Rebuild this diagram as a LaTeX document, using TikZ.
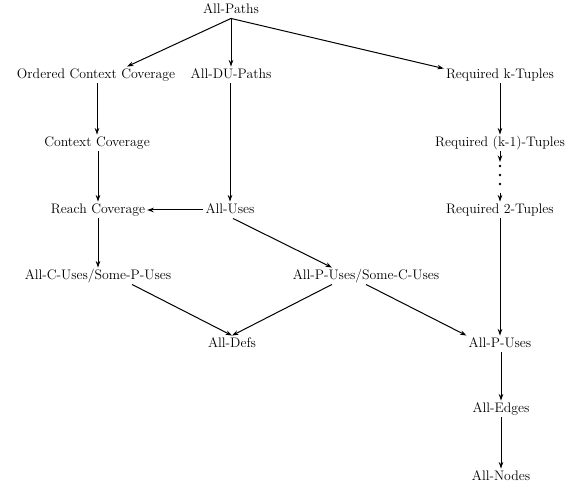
\documentclass[tikz,border=0pt]{standalone}
\usetikzlibrary{arrows.meta}
\begin{document}
\begin{tikzpicture}[x=1pt,y=-1pt,
  lbl/.style={inner sep=2pt,text height=9.5pt,text depth=3pt,font=\fontsize{13.8}{16}\selectfont},
  arr/.style={line width=1pt,-{Stealth[length=6.5pt,width=4.5pt]}}]
\useasboundingbox (0,0) rectangle (571,486);
\node[lbl] (ap)  at (231,10)  {All-Paths};
\node[lbl] (occ) at (96,75)   {Ordered Context Coverage};
\node[lbl] (adu) at (231,75)  {All-DU-Paths};
\node[lbl] (rk)  at (500,75)  {Required k-Tuples};
\node[lbl] (cc)  at (97,143)  {Context Coverage};
\node[lbl] (rk1) at (500,143) {Required (k-1)-Tuples};
\node[lbl] (rc)  at (98,210)  {Reach Coverage};
\node[lbl] (au)  at (230,210) {All-Uses};
\node[lbl] (r2)  at (500,210) {Required 2-Tuples};
\node[lbl] (acu) at (98,276)  {All-C-Uses/Some-P-Uses};
\node[lbl] (apu) at (366,276) {All-P-Uses/Some-C-Uses};
\node[lbl] (ad)  at (232,344) {All-Defs};
\node[lbl] (apo) at (500,344) {All-P-Uses};
\node[lbl] (ae)  at (501,409) {All-Edges};
\node[lbl] (an)  at (501,477) {All-Nodes};
\coordinate (d1) at (500,162);
\coordinate (d2) at (500,193);

\draw[arr] (ap.south) -- ([xshift=31pt]occ.north);
\draw[arr] (ap.south) -- (adu.north);
\draw[arr] (ap.south) -- ([yshift=-2pt]rk.north west);
\draw[arr] (occ.south -| cc.north) -- (cc.north);
\draw[arr] (cc.south -| rc.north) -- (rc.north);
\draw[arr] (adu.south -| au.north) -- (au.north);
\draw[arr] (au.west) -- (rc.east);
\draw[arr] (rc.south) -- (acu.north);
\draw[arr] ([xshift=3pt]au.south) -- ([xshift=-34pt]apu.north);
\draw[arr] ([xshift=34pt]acu.south) -- (ad.north);
\draw[arr] ([xshift=-34pt]apu.south) -- (ad.north);
\draw[arr] (apu.south) -- (apo.north west);
\draw[arr] (rk.south) -- (rk1.north);
\draw[arr] (rk1.south) -- (d1);
\fill (500,166) circle (1.3pt) (500,175) circle (1.3pt) (500,184) circle (1.3pt);
\draw[arr] (d2) -- (r2.north);
\draw[arr] (r2.south) -- (apo.north);
\draw[arr] (apo.south -| ae.north) -- (ae.north);
\draw[arr] (ae.south) -- (an.north);
\end{tikzpicture}
\end{document}
